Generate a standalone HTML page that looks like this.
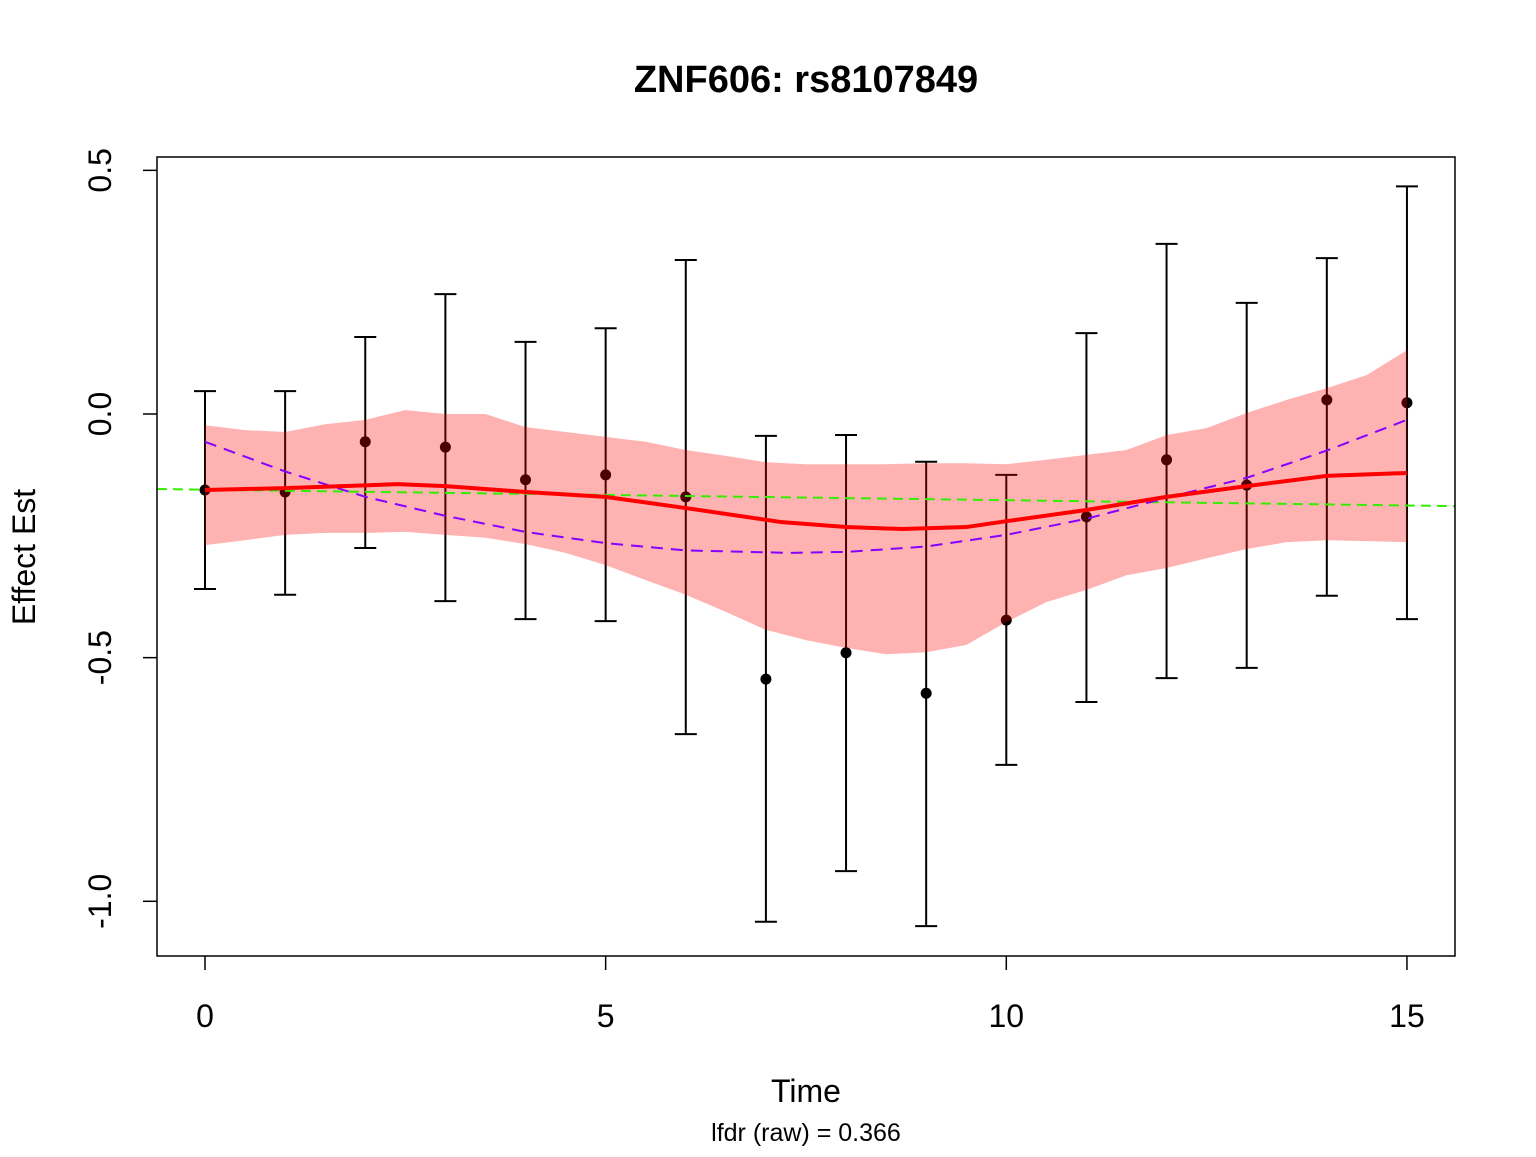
<!DOCTYPE html>
<html><head><meta charset="utf-8"><style>
body{margin:0;background:#fff}
svg text{font-family:"Liberation Sans",Arial,sans-serif;fill:#000}
</style></head><body>
<svg id="chart" width="1536" height="1152" viewBox="0 0 1536 1152">
<rect width="1536" height="1152" fill="#fff"/>
<g id="bars"></g>
<g id="pts"></g>
<g id="band"></g>
<g id="lines"></g>
<rect x="157" y="157" width="1298" height="799" fill="none" stroke="#000" stroke-width="1.5"/>
<g id="axes"></g>
<text x="806" y="92" text-anchor="middle" font-size="38" font-weight="bold">ZNF606: rs8107849</text>
<text x="806" y="1102" text-anchor="middle" font-size="32">Time</text>
<text x="806" y="1141" text-anchor="middle" font-size="25">lfdr (raw) = 0.366</text>
<text transform="translate(35,557) rotate(-90)" text-anchor="middle" font-size="32">Effect Est</text>
</svg>
<script>
const times=[0,1,2,3,4,5,6,7,8,9,10,11,12,13,14,15];
const est=[-0.156,-0.16,-0.057,-0.068,-0.135,-0.125,-0.17,-0.544,-0.49,-0.573,-0.423,-0.211,-0.094,-0.146,0.029,0.023];
const upperCI=[0.047,0.047,0.158,0.246,0.148,0.176,0.316,-0.045,-0.043,-0.098,-0.125,0.166,0.349,0.228,0.32,0.467];
const lowerCI=[-0.359,-0.371,-0.275,-0.384,-0.421,-0.425,-0.657,-1.042,-0.938,-1.051,-0.72,-0.591,-0.542,-0.521,-0.373,-0.421];
const bandX=[0,0.5,1,1.5,2,2.5,3,3.5,4,4.5,5,5.5,6,6.5,7,7.5,8,8.5,9,9.5,10,10.5,11,11.5,12,12.5,13,13.5,14,14.5,15];
const bandUpper=[-0.023,-0.033,-0.037,-0.021,-0.012,0.008,0,0,-0.027,-0.037,-0.047,-0.057,-0.074,-0.086,-0.099,-0.103,-0.103,-0.103,-0.101,-0.101,-0.103,-0.094,-0.084,-0.074,-0.043,-0.029,0.002,0.029,0.053,0.08,0.131];
const bandLower=[-0.269,-0.259,-0.248,-0.244,-0.244,-0.242,-0.248,-0.254,-0.267,-0.285,-0.31,-0.341,-0.371,-0.406,-0.443,-0.464,-0.48,-0.493,-0.489,-0.474,-0.427,-0.386,-0.361,-0.331,-0.316,-0.296,-0.277,-0.263,-0.259,-0.261,-0.263];
const fitX=[0,1,2.4,3,4,5,6,7.2,8,8.7,9.5,10,11,12,13,14,15];
const fitY=[-0.156,-0.152,-0.144,-0.148,-0.16,-0.17,-0.193,-0.222,-0.232,-0.236,-0.232,-0.22,-0.197,-0.17,-0.148,-0.127,-0.121];
const quadX=[0,1,2,3,4,5,6,7.3,8,9,10,11,12,13,14,15];
const quadY=[-0.057,-0.118,-0.17,-0.209,-0.242,-0.265,-0.28,-0.285,-0.283,-0.272,-0.248,-0.215,-0.172,-0.131,-0.075,-0.012];
const linX=[-0.6,15.6];
const linY=[-0.154,-0.189];
const xTicks=[0,5,10,15];
const yTicks=[0.5,0,-0.5,-1.0];
const yTickLabels=["0.5","0.0","-0.5","-1.0"];

const X=v=>205+v*80.13;
const Y=v=>414-v*487.3;
const NS='http://www.w3.org/2000/svg';
function mk(tag,attrs,parent){const e=document.createElementNS(NS,tag);for(const k in attrs)e.setAttribute(k,attrs[k]);parent.appendChild(e);return e;}
const bars=document.getElementById('bars'),pts=document.getElementById('pts'),band=document.getElementById('band'),lines=document.getElementById('lines'),axes=document.getElementById('axes');
times.forEach((t,i)=>{
  const x=X(t);
  const g=mk('path',{d:`M${x},${Y(upperCI[i])}V${Y(lowerCI[i])}M${x-11},${Y(upperCI[i])}H${x+11}M${x-11},${Y(lowerCI[i])}H${x+11}`,stroke:'#000','stroke-width':2,fill:'none'},bars);
  
  
  const c=mk('circle',{cx:x,cy:Y(est[i]),r:5.5,fill:'#000'},pts);
  
  
});
let d='M'+bandX.map((x,i)=>X(x)+','+Y(bandUpper[i])).join('L');
for(let i=bandX.length-1;i>=0;i--)d+='L'+X(bandX[i])+','+Y(bandLower[i]);
const bp=mk('path',{d:d+'Z',fill:'rgba(255,0,0,0.3)'},band);


const pl=(xs,ys)=>xs.map((x,i)=>X(x)+','+Y(ys[i])).join(' ');
const gl=mk('polyline',{points:pl(linX,linY),fill:'none',stroke:'#33ee00','stroke-width':2,'stroke-dasharray':'10,6'},lines);


const ql=mk('polyline',{points:pl(quadX,quadY),fill:'none',stroke:'#8800ff','stroke-width':2,'stroke-dasharray':'12,8'},lines);


const rl=mk('polyline',{points:pl(fitX,fitY),fill:'none',stroke:'#ff0000','stroke-width':4,'stroke-linejoin':'round'},lines);


xTicks.forEach(t=>{
  const l=mk('line',{x1:X(t),x2:X(t),y1:956,y2:970,stroke:'#000','stroke-width':1.5},axes);
  
  
  const tx=mk('text',{x:X(t),y:1027,'text-anchor':'middle','font-size':32},axes);tx.textContent=t;
  
  
});
yTicks.forEach((t,i)=>{
  const l=mk('line',{x1:143,x2:157,y1:Y(t),y2:Y(t),stroke:'#000','stroke-width':1.5},axes);
  
  
  const tx=mk('text',{transform:`translate(111,${Y(t)}) rotate(-90)`,'text-anchor':'middle','font-size':32},axes);tx.textContent=yTickLabels[i];
  
  
});
</script>
</body></html>
